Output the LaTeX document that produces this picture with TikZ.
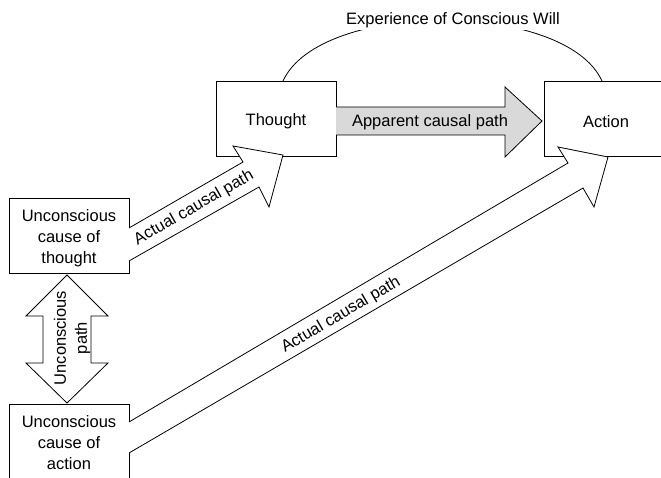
\documentclass[tikz,border=0pt]{standalone}
\usepackage{fontspec}
\setmainfont{Liberation Sans}
\begin{document}
\begin{tikzpicture}[x=1pt,y=-1pt,
  lw/.style={line width=0.8pt},
  box/.style={draw,lw,minimum width=120pt,minimum height=75pt,inner sep=0pt},
  lbl/.style={inner sep=0pt,align=center,font=\fontsize{16.5}{21}\selectfont},
  blockarrow/.style={lw,fill=white,line join=miter},
]
\useasboundingbox (0,0) rectangle (661,478);
\clip (0,0) rectangle (661,478);
\fill[white] (0,0) rectangle (661,478);
% boxes
\node[box] (uct) at (69,235.5) {};
\node[lbl] (uctt) at ([yshift=-2.5pt]uct.center) {Unconscious\\cause of\\thought};
\node[box] (uca) at (69,441.5) {};
\node[lbl] (ucat) at ([yshift=-1.5pt]uca.center) {Unconscious\\cause of\\action};
\node[box] (thought) at (276,118.5) {};
\node[lbl] (thoughtt) at ([yshift=-3pt]thought.center) {Thought};
\node[box,minimum width=124pt] (action) at (606,118.5) {};
\node[lbl] (actiont) at ([yshift=-3pt]action.center) {Action};
% arc: experience of conscious will
\draw[lw] (283,81) .. controls (320,0) and (565,0) .. (602,81);
\node[lbl,fill=white,inner sep=2pt] (will) at (453,20) {Experience of Conscious Will};
% apparent causal path
\path[lw,fill=black!15,draw] (336,107) -- (505,107) -- (505,87) -- (542,121) -- (505,157) -- (505,135) -- (336,135);
\node[lbl] (app) at (430,122) {Apparent causal path};
% actual causal path 1
\path[blockarrow,draw] (129,228) -- (243,162) -- (233,146) -- (283,155) -- (269,207) -- (259,187) -- (129,261);
\node[lbl,rotate=29.8] (act1) at (194,208) {Actual causal path};
% actual causal path 2
\path[blockarrow,draw] (129,422) -- (568,163) -- (558,147) -- (608,157) -- (594,207) -- (583,188) -- (129,453);
\node[lbl,rotate=30.4] (act2) at (341,315) {Actual causal path};
% unconscious path
\path[blockarrow,draw] (67,275) -- (108,316) -- (91,316) -- (91,363) -- (108,363) -- (67,403) -- (26,363) -- (43,363) -- (43,316) -- (26,316) -- cycle;
\node[lbl,rotate=90] (unc) at (72,338) {Unconscious\\path};
\end{tikzpicture}
\end{document}
